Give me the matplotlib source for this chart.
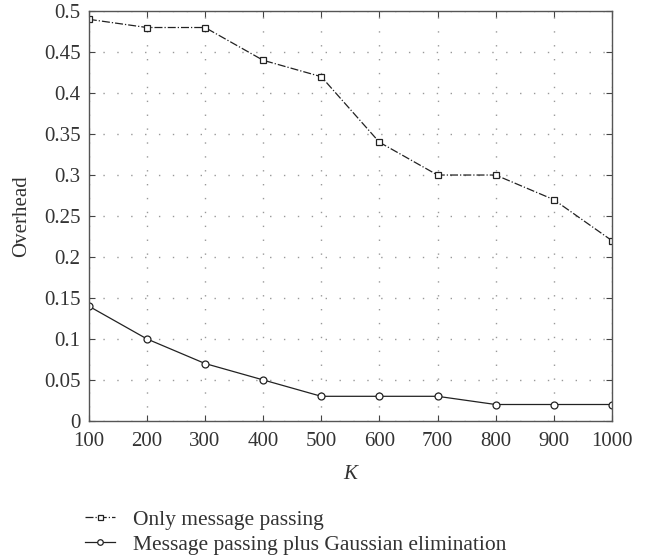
import matplotlib
matplotlib.use('Agg')
import matplotlib.pyplot as plt

k_values = [100, 200, 300, 400, 500, 600, 700, 800, 900, 1000]
only_mp = [0.49, 0.48, 0.48, 0.44, 0.42, 0.34, 0.30, 0.30, 0.27, 0.22]
mp_gauss = [0.14, 0.10, 0.07, 0.05, 0.03, 0.03, 0.03, 0.02, 0.02, 0.02]
y_ticks = [0, 0.05, 0.1, 0.15, 0.2, 0.25, 0.3, 0.35, 0.4, 0.45, 0.5]
y_labels = ['0', '0.05', '0.1', '0.15', '0.2', '0.25', '0.3', '0.35', '0.4', '0.45', '0.5']

plt.rcParams['font.family'] = ['Liberation Serif', 'DejaVu Serif']
plt.rcParams['font.size'] = 15

fig = plt.figure(figsize=(6.53, 5.56), dpi=100)
ax = fig.add_axes([0.136, 0.243, 0.801, 0.737])

ax.plot(k_values, only_mp, color='#222222', linestyle='-.', linewidth=0.9,
        marker='s', markersize=4.5, markerfacecolor='white',
        markeredgecolor='#222222', markeredgewidth=0.9,
        label='Only message passing')
ax.plot(k_values, mp_gauss, color='#222222', linestyle='-', linewidth=0.9,
        marker='o', markersize=5, markerfacecolor='white',
        markeredgecolor='#222222', markeredgewidth=0.9,
        label='Message passing plus Gaussian elimination')

ax.set_xlim(100, 1000)
ax.set_ylim(0, 0.5)
ax.set_xticks(k_values)
ax.set_yticks(y_ticks)
ax.set_yticklabels(y_labels)
ax.grid(True, linestyle=(0, (1, 9)), color='#999999', linewidth=1.0)
ax.tick_params(direction='in', top=True, right=True, length=4,
               color='#444444', labelsize=15, labelcolor='#333333')
ax.tick_params(axis='x', pad=8)
ax.tick_params(axis='y', pad=6)
for s in ax.spines.values():
    s.set_color('#555555')
    s.set_linewidth(1.0)

ax.set_xlabel('K', fontsize=15, fontstyle='italic', color='#333333', labelpad=10)
ax.set_ylabel('Overhead', fontsize=15, color='#333333', labelpad=9)

fig.legend(loc='upper left', bbox_to_anchor=(0.114, 0.103), frameon=False,
           fontsize=15.5, handlelength=1.4, labelspacing=0.25, handletextpad=0.8,
           borderpad=0.0, markerscale=0.8, labelcolor='#333333')

fig.savefig('out.png', dpi=100)
